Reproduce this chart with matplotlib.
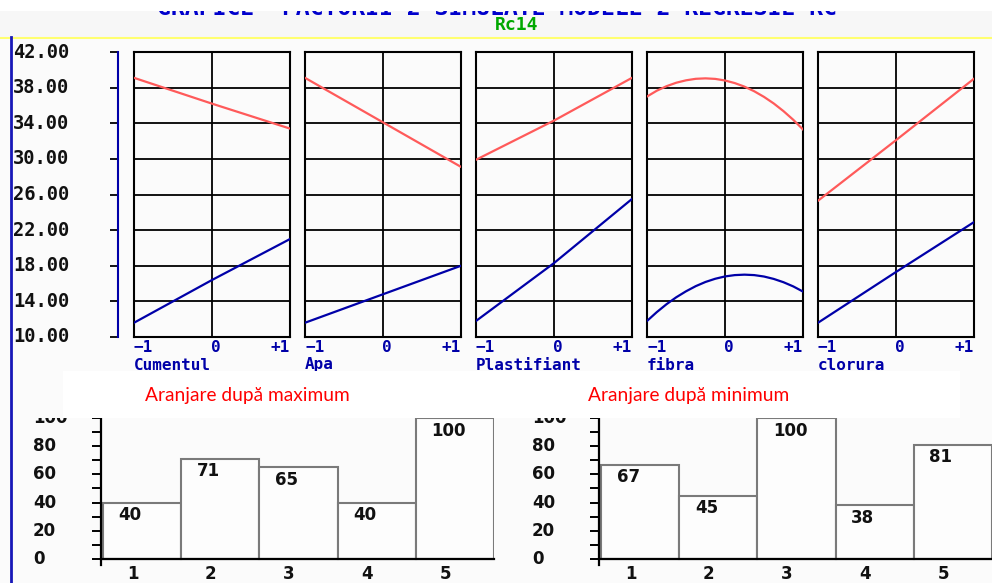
import numpy as np
import matplotlib.pyplot as plt
from matplotlib.patches import Rectangle
from matplotlib.lines import Line2D
from matplotlib.transforms import Bbox, TransformedBbox, blended_transform_factory

W, H = 992, 583
BG = "#fbfbfb"
RED = "#ff5a5a"
BLUE = "#0000a8"
MONO = "DejaVu Sans Mono"

# response curves for each factor over the coded levels -1 .. +1
factors = ["Cumentul", "Apa", "Plastifiant", "fibra", "clorura"]
x_lin = [-1, 0, 1]
x_fibra = [-1, -0.875, -0.75, -0.625, -0.5, -0.375, -0.25, -0.125, 0,
           0.125, 0.25, 0.375, 0.5, 0.625, 0.75, 0.875, 1]
max_cumentul = [39.1, 36.2, 33.4]
min_cumentul = [11.6, 16.4, 21.0]
max_apa = [39.1, 34.1, 29.1]
min_apa = [11.6, 14.8, 18.0]
max_plast = [29.9, 34.3, 39.1]
min_plast = [11.8, 18.3, 25.5]
max_fibra = [37.0, 37.65, 38.16, 38.55, 38.82, 38.99, 39.04, 38.98, 38.8,
             38.51, 38.11, 37.59, 36.96, 36.22, 35.36, 34.39, 33.3]
min_fibra = [11.8, 12.79, 13.68, 14.46, 15.13, 15.71, 16.18, 16.54, 16.8,
             16.95, 17.0, 16.95, 16.79, 16.52, 16.15, 15.68, 15.1]
max_clorura = [25.3, 32.1, 39.0]
min_clorura = [11.6, 17.3, 22.9]
y_levels = [10, 14, 18, 22, 26, 30, 34, 38, 42]

# factor ranking bars
ranks = ["1", "2", "3", "4", "5"]
rank_max = [40, 71, 65, 40, 100]
rank_min = [67, 45, 100, 38, 81]
rank_ticks = [0, 20, 40, 60, 80, 100]

fig = plt.figure(figsize=(W / 100, H / 100), dpi=100, facecolor=BG)


def px_axes(x0, y0, x1, y1, **kw):
    return fig.add_axes([x0 / W, 1 - y1 / H, (x1 - x0) / W, (y1 - y0) / H], **kw)


def bare(ax):
    ax.set_xticks([])
    ax.set_yticks([])
    for sp in ax.spines.values():
        sp.set_visible(False)


# header strip: title line scrolled mostly out of view, then the chart name
hdr = px_axes(0, 11, W, 37)
hdr.set_facecolor("#f7f7f7")
bare(hdr)
title = hdr.text(157 / W, 1 - 4 / 26,
                 "GRAFICE  FACTORII 2 SIMULATE MODELE 2 REGRESIE RC",
                 transform=hdr.transAxes, ha="left", va="baseline",
                 color="#0000cc", family=MONO, weight="bold", fontsize=16.7)
title.set_clip_box(hdr.bbox)
title.set_clip_on(True)
hdr.text(517 / W, 1 - 14 / 26, "Rc14", transform=hdr.transAxes, ha="center",
         va="center", color="#00a800", family=MONO, weight="bold", fontsize=13)
top = px_axes(0, 0, W, 11, zorder=5)
top.set_facecolor("white")
bare(top)
fig.add_artist(Line2D([0, 1], [1 - 37.5 / H] * 2, transform=fig.transFigure,
                      color="#ffff70", lw=1.5))
fig.add_artist(Line2D([10.5 / W] * 2, [0, 1 - 37 / H], transform=fig.transFigure,
                      color="#1818b8", lw=2))

# shared value scale
scale = px_axes(110, 52, 118, 337)
scale.set_facecolor("none")
scale.set_ylim(10, 42)
for name, sp in scale.spines.items():
    sp.set_visible(name == "right")
scale.spines["right"].set_color(BLUE)
scale.spines["right"].set_linewidth(1.5)
scale.set_xticks([])
scale.yaxis.tick_right()
scale.set_yticks(y_levels)
scale.tick_params(axis="y", direction="in", length=5.8, width=1.3, color="black",
                  labelright=False)
lbl_tr = blended_transform_factory(fig.transFigure, scale.transData)
for v in y_levels:
    scale.text(13 / W, v, f"{v:.2f}", transform=lbl_tr, ha="left", va="center",
               family=MONO, weight="bold", fontsize=13.5, color="#111111")

series = [
    (x_lin, max_cumentul, min_cumentul),
    (x_lin, max_apa, min_apa),
    (x_lin, max_plast, min_plast),
    (x_fibra, max_fibra, min_fibra),
    (x_lin, max_clorura, min_clorura),
]
lab_kw = dict(color=BLUE, family=MONO, weight="bold", fontsize=11.5,
              va="baseline")
for i, (name, (xs, hi, lo)) in enumerate(zip(factors, series)):
    x0 = 134 + 171 * i
    ax = px_axes(x0, 52, x0 + 156, 337)
    ax.set_facecolor(BG)
    ax.set_xlim(-1, 1)
    ax.set_ylim(10, 42)
    for y in y_levels[1:-1]:
        ax.axhline(y, color="black", lw=1.3, zorder=1)
    ax.axvline(0, color="black", lw=1.3, zorder=1)
    ax.plot(xs, hi, color=RED, lw=1.6, zorder=3)
    ax.plot(xs, lo, color=BLUE, lw=1.6, zorder=3)
    for sp in ax.spines.values():
        sp.set_linewidth(1.5)
    ax.set_xticks([])
    ax.set_yticks([])
    tr = ax.get_xaxis_transform()
    ty = -15 / 285
    ax.text(-1, ty, "\u22121", transform=tr, ha="left", **lab_kw)
    ax.text(0.05, ty, "0", transform=tr, ha="center", **lab_kw)
    ax.text(1, ty, "+1", transform=tr, ha="right", **lab_kw)
    ax.text(-1, -32.5 / 285, name, transform=tr, ha="left", **lab_kw)

# ranking charts
clip = TransformedBbox(Bbox([[0, 0], [1, 1 - 418 / H]]), fig.transFigure)


def rank_chart(x_axis, label_x, vals):
    ax = px_axes(x_axis, 418, x_axis + 393, 564.6)
    ax.set_facecolor(BG)
    ax.set_xlim(-0.025, 5)
    ax.set_ylim(-4, 100)
    pos = np.arange(len(ranks))
    ax.bar(pos, vals, width=1, align="edge", facecolor="#fdfdfd",
           edgecolor="#7a7a7a", lw=1.5, zorder=2)
    ax.spines["top"].set_visible(False)
    ax.spines["right"].set_visible(False)
    ax.spines["bottom"].set_position(("data", 0))
    ax.spines["bottom"].set_linewidth(1.6)
    ax.spines["left"].set_linewidth(1.6)
    ax.set_xticks([])
    ax.set_yticks(rank_ticks)
    ax.set_yticks(np.arange(10, 100, 20), minor=True)
    ax.tick_params(axis="y", which="both", length=6.5, width=1.4,
                   labelleft=False)
    for p, r, v in zip(pos, ranks, vals):
        ax.text(p + 0.38, -4.5, r, ha="center", va="top", weight="bold",
                fontsize=12, color="#111111")
        ax.text(p + 0.2, v - 2.5, str(v), ha="left", va="top", weight="bold",
                fontsize=12, color="#111111", zorder=4)
    tr = blended_transform_factory(fig.transFigure, ax.transData)
    for t in rank_ticks:
        txt = ax.text(label_x / W, t, str(t), transform=tr, ha="left",
                      va="center", weight="bold", fontsize=12, color="#111111")
        txt.set_clip_box(clip)
        txt.set_clip_on(True)
    return ax


rank_chart(101, 33, rank_max)
rank_chart(599, 532, rank_min)

# caption box over the ranking charts
fig.add_artist(Rectangle((63 / W, 1 - 418 / H), (960 - 63) / W, 47 / H,
                         transform=fig.transFigure, facecolor="white",
                         edgecolor="none", zorder=5))
fig.text(145 / W, 1 - 396 / H, "Aranjare după maximum", ha="left", va="center",
         color="#ff0000", family="Lato", fontsize=13.8, zorder=6)
fig.text(588 / W, 1 - 396 / H, "Aranjare după minimum", ha="left", va="center",
         color="#ff0000", family="Lato", fontsize=13.8, zorder=6)

fig.savefig("out.png", dpi=100, facecolor=BG)
